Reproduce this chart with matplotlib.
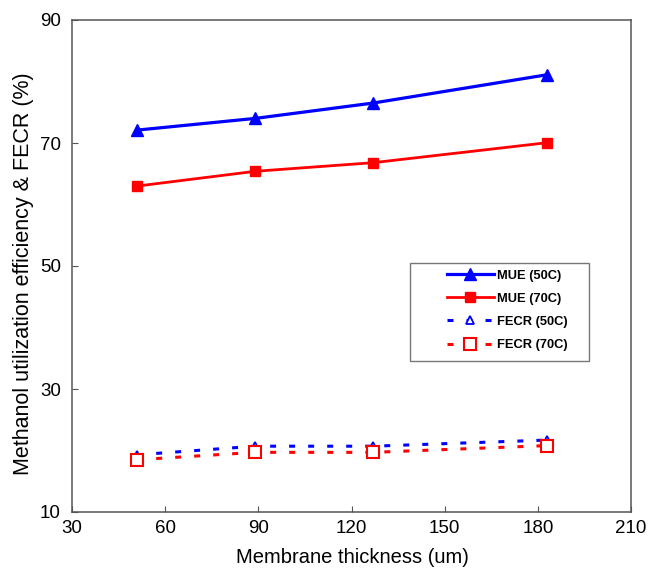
import matplotlib
matplotlib.use("Agg")
import matplotlib.pyplot as plt
from matplotlib.patches import Rectangle

plt.rcParams['font.family'] = ['Liberation Sans', 'DejaVu Sans']
plt.rcParams['lines.scale_dashes'] = False

# membrane thickness (um)
thickness = [51, 89, 127, 183]
# methanol utilization efficiency (%)
mue_50 = [72.1, 74.0, 76.5, 81.1]
mue_70 = [63.0, 65.4, 66.8, 70.05]
# FECR (%)
fecr_50 = [19.3, 20.7, 20.7, 21.7]
fecr_70 = [18.5, 19.7, 19.7, 20.8]

fig = plt.figure(figsize=(6.5, 5.69), dpi=100)
ax = fig.add_axes([72/650, 57/569, 559/650, 492/569])

ax.plot(thickness, mue_50, color='#0000ff', lw=2.3, marker='^', ms=9, label='MUE (50C)')
ax.plot(thickness, mue_70, color='#ff0000', lw=2.0, marker='s', ms=7.5, label='MUE (70C)')
ax.plot(thickness, fecr_50, color='#0000ff', lw=2.2, dashes=(4.3, 9.4), marker='^', ms=6,
        mfc='white', mec='#0000ff', mew=1.3, label='FECR (50C)')
ax.plot(thickness, fecr_70, color='#ff0000', lw=2.2, dashes=(4.3, 9.4), marker='s', ms=9,
        mfc='white', mec='#ff0000', mew=1.5, label='FECR (70C)')

ax.set_xlim(30, 210)
ax.set_ylim(10, 90)
ax.set_xticks(range(30, 211, 30))
ax.set_yticks(range(10, 91, 20))

for s in ax.spines.values():
    s.set_color('#555555')
    s.set_linewidth(1.1)
ax.tick_params(axis='both', direction='in', length=4, color='#555555', labelsize=13.5)
ax.tick_params(axis='x', pad=6)
ax.tick_params(axis='y', pad=8)

ax.set_xlabel('Membrane thickness (um)', fontsize=14.5)
ax.xaxis.set_label_coords(0.502, -0.074)
ax.set_ylabel('Methanol utilization efficiency & FECR (%)', fontsize=15.5)
ax.yaxis.set_label_coords(-0.068, 0.484)

# legend box drawn separately (wide padding in the original)
ax.add_patch(Rectangle((0.605, 0.307), 0.320, 0.199, transform=ax.transAxes,
                       fill=False, edgecolor='#777777', lw=1.0, zorder=4))
leg = ax.legend(loc='upper left', bbox_to_anchor=(0.671, 0.492), borderaxespad=0,
                frameon=False, handlelength=3.6, handletextpad=0.25, borderpad=0,
                labelspacing=0.85, prop={'weight': 'bold', 'size': 9.3})

fig.savefig('out.png', dpi=100)
